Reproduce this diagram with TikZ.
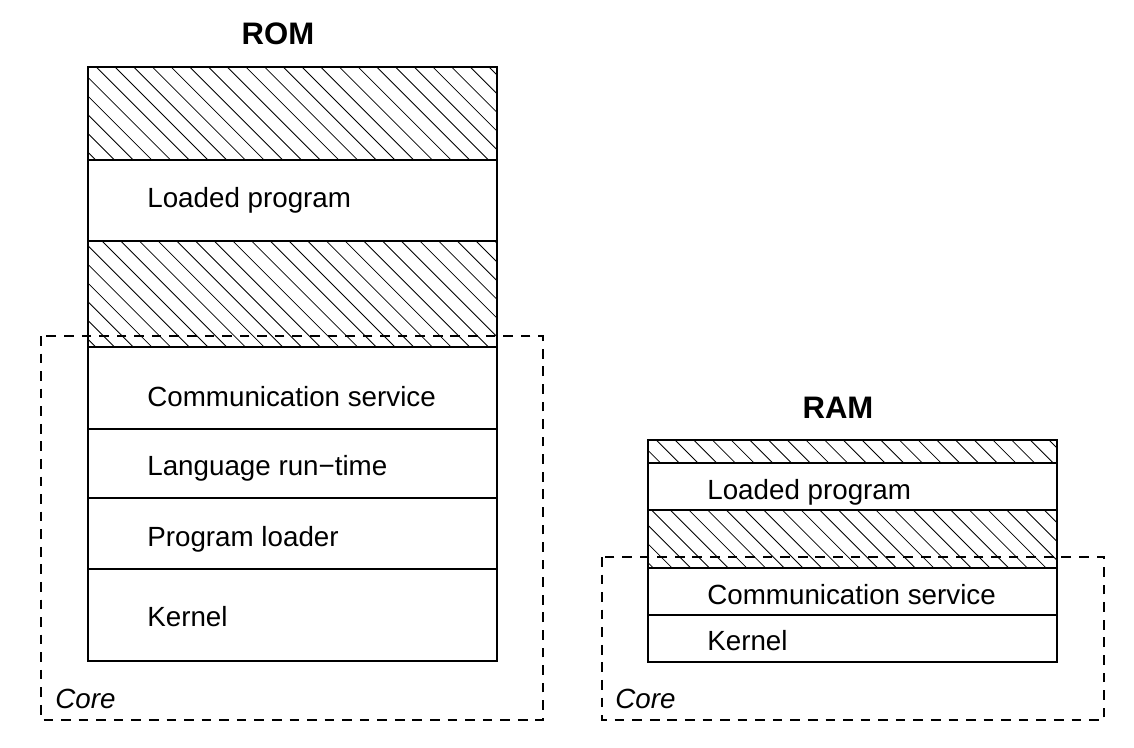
\documentclass[tikz,border=0pt]{standalone}
\usepackage{fontspec}
\setmainfont{Liberation Sans}
\newcommand{\hatchbox}[4]{%
  \begin{scope}
    \clip (#1,#2) rectangle (#3,#4);
    \foreach \c in {-700,-681.3,...,1150}
      \draw[hatch] (\c+#2,#2) -- (\c+#4,#4);
  \end{scope}}

\begin{document}
\begin{tikzpicture}[x=0.02cm,y=-0.02cm,
    box/.style={draw,line width=0.8pt},
    hatch/.style={line width=0.45pt},
    core/.style={draw,line width=0.6pt,dash pattern=on 5.5pt off 4.5pt},
    lbl/.style={anchor=base west,inner sep=0pt,font=\fontsize{15.8}{18}\selectfont},
    title/.style={anchor=base,inner sep=0pt,font=\fontsize{17.7}{20}\selectfont\bfseries},
    corelbl/.style={anchor=base west,inner sep=0pt,font=\fontsize{15.8}{18}\selectfont\itshape}]
  \useasboundingbox (0,0) rectangle (1134,748);

  % ROM
  \node[title] (romtitle) at (278,44) {ROM};
  \hatchbox{88}{67}{497}{160}
  \hatchbox{88}{241}{497}{347}
  \draw[box] (88,67) rectangle (497,661);
  \foreach \y in {160,241,347,429,498,569}
    \draw[box] (88,\y) -- (497,\y);
  \node[lbl] (romprog) at (147,207) {Loaded program};
  \node[lbl] (romcomm) at (147,406) {Communication service};
  \node[lbl] (romlang) at (147,475) {Language run\textminus time};
  \node[lbl] (romload) at (147,546) {Program loader};
  \node[lbl] (romkern) at (147,626) {Kernel};
  \draw[core] (41,336) rectangle (543,720);
  \node[corelbl] (romcore) at (55,708) {Core};

  % RAM
  \node[title] (ramtitle) at (838,418) {RAM};
  \hatchbox{648}{440}{1057}{463}
  \hatchbox{648}{510}{1057}{568}
  \draw[box] (648,440) rectangle (1057,662);
  \foreach \y in {463,510,568,615}
    \draw[box] (648,\y) -- (1057,\y);
  \node[lbl] (ramprog) at (707,499) {Loaded program};
  \node[lbl] (ramcomm) at (707,604) {Communication service};
  \node[lbl] (ramkern) at (707,650) {Kernel};
  \draw[core] (602,557) rectangle (1104,720);
  \node[corelbl] (ramcore) at (615,708) {Core};
\end{tikzpicture}
\end{document}
